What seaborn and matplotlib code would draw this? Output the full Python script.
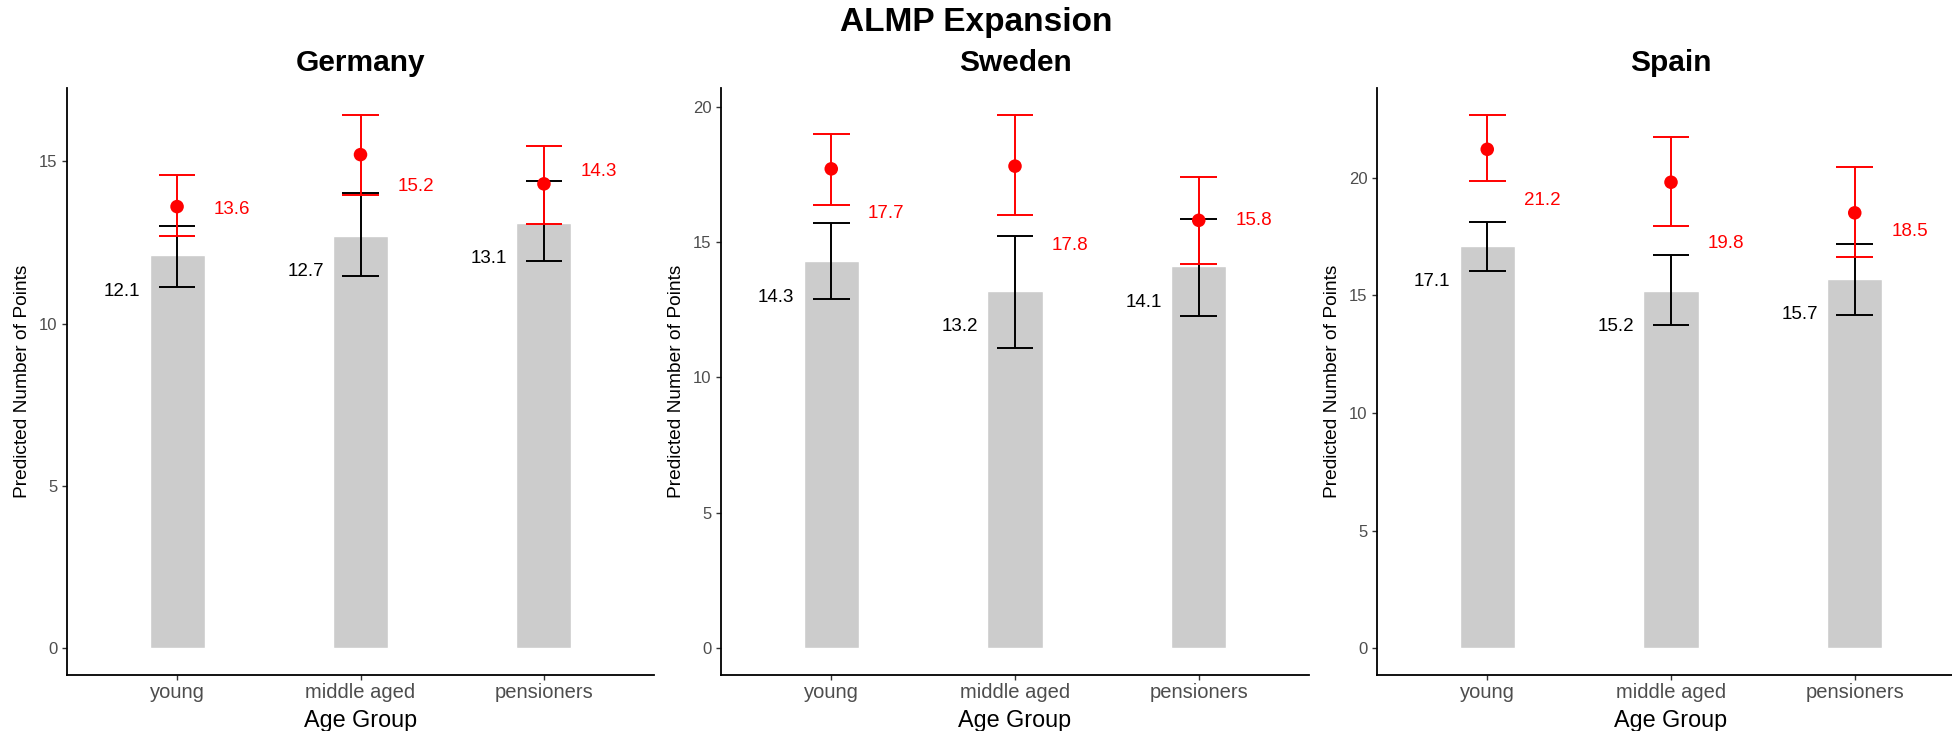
import numpy as np
import matplotlib
matplotlib.use("Agg")
import matplotlib.pyplot as plt
import seaborn as sns

# data
countries = ["Germany", "Sweden", "Spain"]
age_groups = ["young", "middle aged", "pensioners"]

base_mean = {"Germany": [12.1, 12.7, 13.1], "Sweden": [14.3, 13.2, 14.1], "Spain": [17.1, 15.2, 15.7]}
base_lo = {"Germany": [11.13, 11.46, 11.92], "Sweden": [12.89, 11.07, 12.25], "Spain": [16.04, 13.74, 14.14]}
base_hi = {"Germany": [12.99, 14.01, 14.38], "Sweden": [15.69, 15.23, 15.85], "Spain": [18.09, 16.69, 17.19]}

exp_mean = {"Germany": [13.6, 15.2, 14.3], "Sweden": [17.7, 17.8, 15.8], "Spain": [21.2, 19.8, 18.5]}
exp_lo = {"Germany": [12.71, 13.97, 13.06], "Sweden": [16.36, 15.99, 14.18], "Spain": [19.86, 17.92, 16.63]}
exp_hi = {"Germany": [14.58, 16.43, 15.46], "Sweden": [18.97, 19.70, 17.40], "Spain": [22.67, 21.71, 20.43]}

# vertical nudge of the red labels (data units), as placed in the reference
red_label_dy = {"Germany": [-0.1, -0.97, 0.38], "Sweden": [-1.65, -2.93, 0.0], "Spain": [-2.18, -2.59, -0.81]}

sns.set_theme(style="ticks")
plt.rcParams["font.family"] = ["Liberation Sans", "DejaVu Sans"]
plt.rcParams["text.color"] = "black"

W, H = 1952, 731
fig = plt.figure(figsize=(W / 100, H / 100), dpi=100)

# axes rectangles in pixels: left, right
panel_px = [(67, 654), (721, 1309), (1377, 1965)]
top_px, bottom_px = 88, 675

pos = np.arange(len(age_groups))

for country, (l, r) in zip(countries, panel_px):
    ax = fig.add_axes([l / W, 1 - bottom_px / H, (r - l) / W, (bottom_px - top_px) / H])

    sns.barplot(x=age_groups, y=base_mean[country], color="#CCCCCC", width=0.3,
                saturation=1, errorbar=None, ax=ax, zorder=1)

    # black error bars
    ax.vlines(pos, base_lo[country], base_hi[country], color="black", lw=1.4, zorder=2)
    ax.hlines(base_lo[country], pos - 0.1, pos + 0.1, color="black", lw=1.4, zorder=2)
    ax.hlines(base_hi[country], pos - 0.1, pos + 0.1, color="black", lw=1.4, zorder=2)

    # red error bars and points
    ax.vlines(pos, exp_lo[country], exp_hi[country], color="red", lw=1.4, zorder=3)
    ax.hlines(exp_lo[country], pos - 0.1, pos + 0.1, color="red", lw=1.4, zorder=3)
    ax.hlines(exp_hi[country], pos - 0.1, pos + 0.1, color="red", lw=1.4, zorder=3)
    sns.scatterplot(x=pos, y=exp_mean[country], color="red", s=95, edgecolor="none",
                    ax=ax, zorder=4)

    for i in pos:
        ax.annotate(f"{base_mean[country][i]:.1f}", (i - 0.3, base_mean[country][i]),
                    xytext=(0, -26), textcoords="offset points", ha="center", va="center",
                    fontsize=13.5, color="black")
        ax.text(i + 0.3, exp_mean[country][i] + red_label_dy[country][i],
                f"{exp_mean[country][i]:.1f}", ha="center", va="center",
                fontsize=13.5, color="red")

    top = max(exp_hi[country])
    ax.set_ylim(-0.05 * top, top * 1.05)
    ax.set_xlim(-0.6, 2.6)
    ax.yaxis.set_major_locator(matplotlib.ticker.MultipleLocator(5))

    ax.set_title(country, fontsize=21.5, fontweight="bold", pad=12, color="black")
    ax.set_xlabel("Age Group", fontsize=16.8, color="black")
    ax.set_ylabel("Predicted Number of Points", fontsize=13.8, color="black")
    ax.xaxis.set_label_coords(0.5, -34 / (bottom_px - top_px))
    ax.yaxis.set_label_coords(-36 / (r - l), 0.5)

    ax.tick_params(axis="x", labelsize=14.5, labelcolor="#4D4D4D", color="#333333",
                   length=3.5, width=1, pad=2.5)
    ax.tick_params(axis="y", labelsize=12, labelcolor="#4D4D4D", color="#333333",
                   length=3.5, width=1, pad=3.5)
    for side in ["left", "bottom"]:
        ax.spines[side].set_linewidth(1.3)
        ax.spines[side].set_color("black")
    sns.despine(ax=ax)

fig.suptitle("ALMP Expansion", fontsize=24, fontweight="bold", y=1 - 22 / H, va="center",
             color="black")

fig.savefig("out.png", dpi=100)
